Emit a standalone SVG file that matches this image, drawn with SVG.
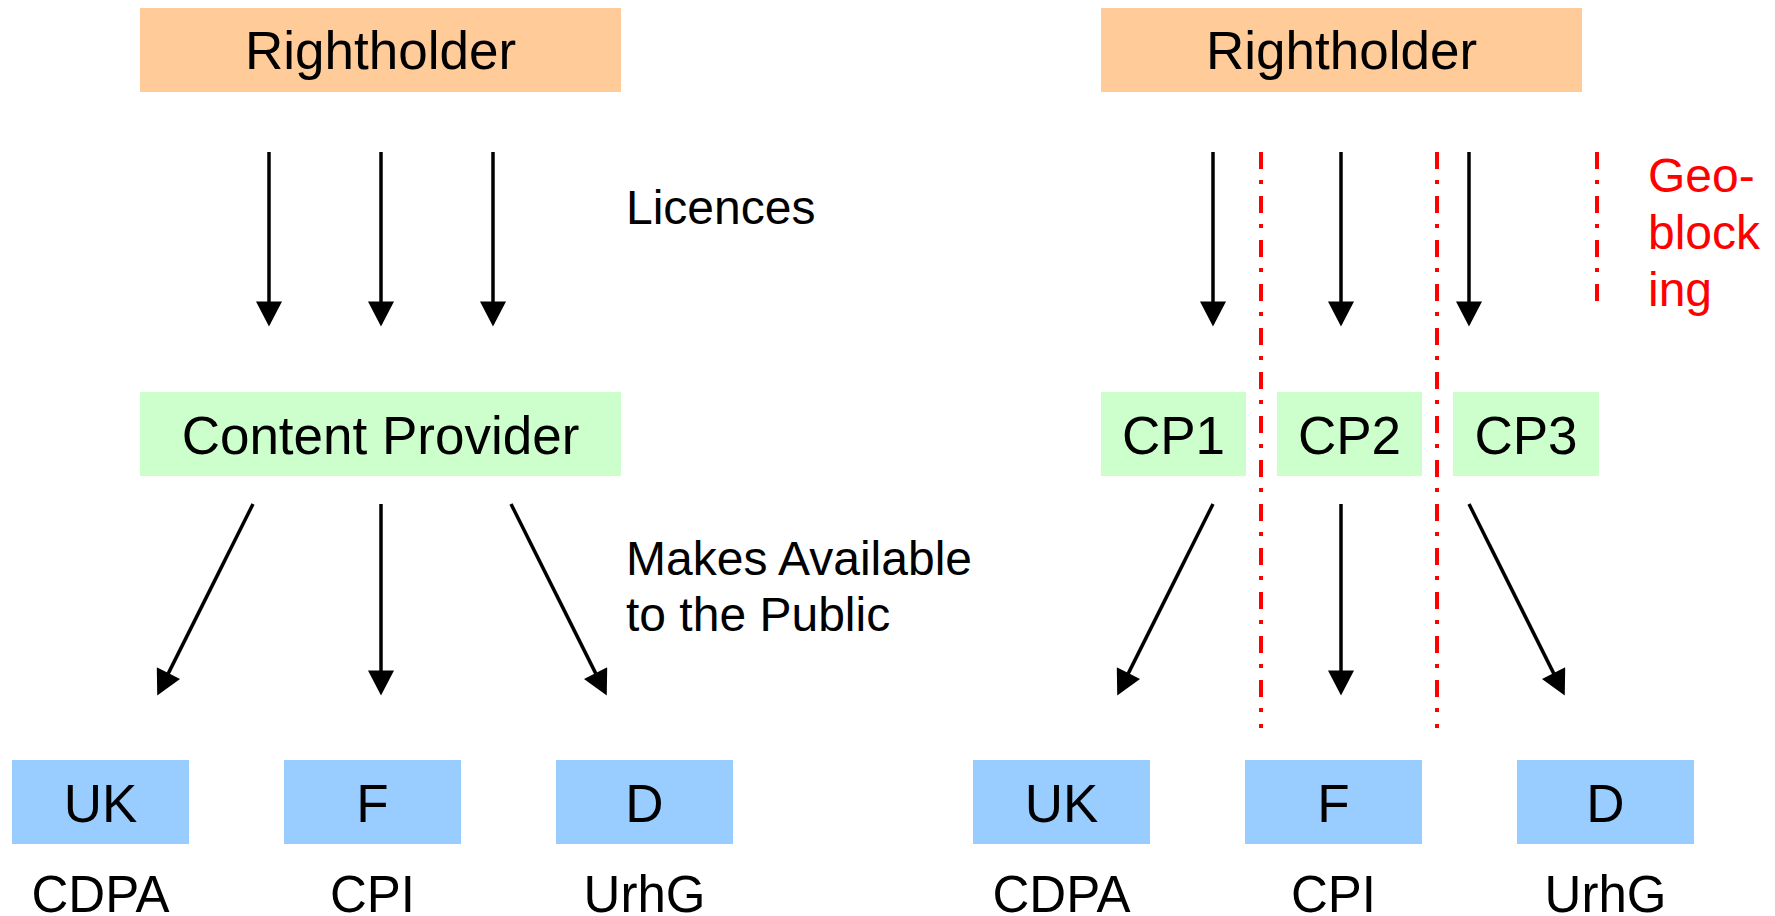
<svg xmlns="http://www.w3.org/2000/svg" width="1775" height="916" viewBox="0 0 1775 916">
<defs>
<style>
.t{font-family:"Liberation Sans",Arial,sans-serif;fill:#000;text-anchor:middle}
.n{font-size:53px}
.b{font-size:51px}
.l{font-size:48px;text-anchor:start}
.red{fill:#FF0000}
.rh{fill:#FFCC99}
.cp{fill:#CCFFCC}
.cn{fill:#99CCFF}
.ar{stroke:#000;stroke-width:3.5;fill:none;marker-end:url(#ah)}
.geo{stroke:#FF0000;stroke-width:4;stroke-dasharray:17 11 4 12;fill:none}
</style>
<marker id="ah" markerUnits="userSpaceOnUse" markerWidth="26" markerHeight="26" viewBox="0 0 25 26" refX="0.5" refY="13" orient="auto">
<path d="M0,0 L25,13 L0,26 z" fill="#000"/>
</marker>
</defs>
<rect width="1775" height="916" fill="#fff"/>

<g id="rightholder-left"><rect class="rh" x="140" y="8" width="481" height="84"/><text class="t n" x="380.5" y="69">Rightholder</text></g>
<g id="content-provider"><rect class="cp" x="140" y="392" width="481" height="84"/><text class="t n" x="380.5" y="454">Content Provider</text></g>
<g id="uk-left"><rect class="cn" x="12" y="760" width="177" height="84"/><text class="t n" x="100.5" y="822">UK</text></g>
<g id="f-left"><rect class="cn" x="284" y="760" width="177" height="84"/><text class="t n" x="372.5" y="822">F</text></g>
<g id="d-left"><rect class="cn" x="556" y="760" width="177" height="84"/><text class="t n" x="644.5" y="822">D</text></g>

<g id="rightholder-right"><rect class="rh" x="1101" y="8" width="481" height="84"/><text class="t n" x="1341.5" y="69">Rightholder</text></g>
<g id="cp1"><rect class="cp" x="1101" y="392" width="145" height="84"/><text class="t n" x="1173.5" y="454">CP1</text></g>
<g id="cp2"><rect class="cp" x="1277" y="392" width="145" height="84"/><text class="t n" x="1349.5" y="454">CP2</text></g>
<g id="cp3"><rect class="cp" x="1453" y="392" width="146" height="84"/><text class="t n" x="1526" y="454">CP3</text></g>
<g id="uk-right"><rect class="cn" x="973" y="760" width="177" height="84"/><text class="t n" x="1061.5" y="822">UK</text></g>
<g id="f-right"><rect class="cn" x="1245" y="760" width="177" height="84"/><text class="t n" x="1333.5" y="822">F</text></g>
<g id="d-right"><rect class="cn" x="1517" y="760" width="177" height="84"/><text class="t n" x="1605.5" y="822">D</text></g>

<g id="labels">
<text class="t b" x="100.5" y="912">CDPA</text>
<text class="t b" x="372.5" y="912">CPI</text>
<text class="t b" x="644.5" y="912">UrhG</text>
<text class="t b" x="1061.5" y="912">CDPA</text>
<text class="t b" x="1333.5" y="912">CPI</text>
<text class="t b" x="1605.5" y="912">UrhG</text>
<text class="t l" x="626" y="224">Licences</text>
<text class="t l" x="626" y="575">Makes Available</text>
<text class="t l" x="626" y="631">to the Public</text>
<text class="t l red" x="1648" y="192">Geo-</text>
<text class="t l red" x="1648" y="249">block</text>
<text class="t l red" x="1648" y="306">ing</text>
</g>

<g id="geoblocking-lines">
<line class="geo" x1="1261" y1="152" x2="1261" y2="728"/>
<line class="geo" x1="1437" y1="152" x2="1437" y2="728"/>
<line class="geo" x1="1597" y1="152" x2="1597" y2="301"/>
</g>

<g id="connectors">
<line class="ar" x1="269" y1="152" x2="269" y2="302"/>
<line class="ar" x1="381" y1="152" x2="381" y2="302"/>
<line class="ar" x1="493" y1="152" x2="493" y2="302"/>
<line class="ar" x1="253" y1="504" x2="168.2" y2="673.6"/>
<line class="ar" x1="381" y1="504" x2="381" y2="671"/>
<line class="ar" x1="511" y1="504" x2="595.8" y2="673.6"/>
<line class="ar" x1="1213" y1="152" x2="1213" y2="302"/>
<line class="ar" x1="1341" y1="152" x2="1341" y2="302"/>
<line class="ar" x1="1469" y1="152" x2="1469" y2="302"/>
<line class="ar" x1="1213" y1="504" x2="1128.2" y2="673.6"/>
<line class="ar" x1="1341" y1="504" x2="1341" y2="671"/>
<line class="ar" x1="1469" y1="504" x2="1553.8" y2="673.6"/>
</g>
</svg>
